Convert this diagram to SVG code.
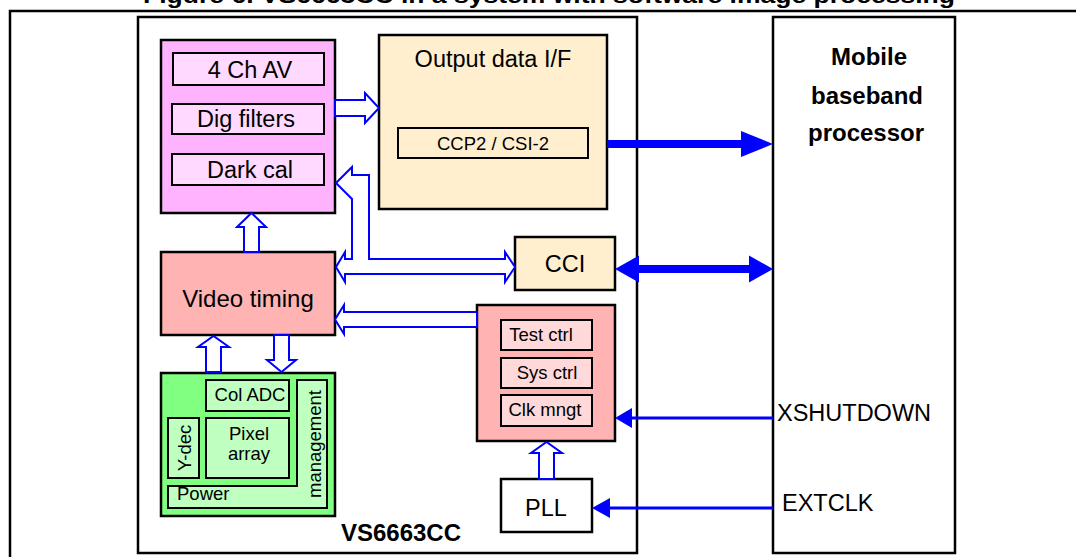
<svg xmlns="http://www.w3.org/2000/svg" width="1076" height="557" viewBox="0 0 1076 557">
<style>
text{font-family:"Liberation Sans",Arial,sans-serif;fill:#000}
.bx{stroke:#000;stroke-width:2.5}
.thin{stroke:#000;stroke-width:2}
.ha{fill:#fff;stroke:#0000ff;stroke-width:2;stroke-linejoin:miter}
.sa{fill:#0000ff;stroke:none}
.t20{font-size:23.5px}
.t16{font-size:18.5px}
.c{text-anchor:middle}
.b{font-size:24px;font-weight:bold;text-anchor:middle}
</style>
<rect width="1076" height="557" fill="#fff"/>
<text x="143" y="3" font-size="22" font-weight="bold" textLength="812" lengthAdjust="spacingAndGlyphs">Figure 6. VS6663CC in a system with software image processing</text>
<path d="M10,557 V11 H1076" fill="none" stroke="#000" stroke-width="2.5"/>

<g id="chip">
<rect x="138" y="17" width="499" height="536" fill="#fff" class="bx"/>
<text x="401" y="541" class="b">VS6663CC</text>
</g>

<g id="baseband">
<rect x="773" y="17" width="182" height="536" fill="#fff" class="bx"/>
<text x="869" y="65" class="b">Mobile</text>
<text x="867" y="104" class="b">baseband</text>
<text x="866" y="141" class="b">processor</text>
</g>

<g id="digital">
<rect x="161" y="40" width="174" height="173" fill="#ffb3ff" class="bx"/>
<rect x="173" y="53" width="151" height="32" fill="#ffd9ff" class="thin"/>
<text x="250" y="78" class="t20 c">4 Ch AV</text>
<rect x="172" y="104" width="152" height="30" fill="#ffd9ff" class="thin"/>
<text x="246" y="127" class="t20 c">Dig filters</text>
<rect x="172" y="154" width="152" height="31" fill="#ffd9ff" class="thin"/>
<text x="250" y="178" class="t20 c">Dark cal</text>
</g>

<g id="output-if">
<rect x="379" y="35" width="228" height="174" fill="#ffefcf" class="bx"/>
<text x="493" y="67" class="t20 c">Output data I/F</text>
<rect x="398" y="128" width="190" height="30" fill="#ffefcf" class="thin"/>
<text x="493" y="150" class="t16 c">CCP2 / CSI-2</text>
</g>

<g id="cci">
<rect x="515" y="237" width="100" height="53" fill="#ffefcf" class="bx"/>
<text x="565" y="272" class="t20 c">CCI</text>
</g>

<g id="video-timing">
<rect x="161" y="252" width="174" height="83" fill="#ffb3b3" class="bx"/>
<text x="248" y="307" font-size="24" class="c">Video timing</text>
</g>

<g id="control">
<rect x="477" y="305" width="138" height="136" fill="#ffb3b3" class="bx"/>
<rect x="501" y="320" width="91" height="30" fill="#ffd9d9" class="thin"/>
<text x="541" y="341" class="t16 c">Test ctrl</text>
<rect x="501" y="358" width="91" height="30" fill="#ffd9d9" class="thin"/>
<text x="547" y="379" class="t16 c">Sys ctrl</text>
<rect x="501" y="395" width="91" height="31" fill="#ffd9d9" class="thin"/>
<text x="545" y="416" class="t16 c">Clk mngt</text>
</g>

<g id="pll">
<rect x="501" y="479" width="91" height="53" fill="#fff" class="bx"/>
<text x="546" y="516" class="t20 c">PLL</text>
</g>

<g id="sensor">
<rect x="161" y="373" width="174" height="143" fill="#80ff80" class="bx"/>
<rect x="206" y="380" width="83" height="31" fill="#bfffbf" class="thin"/>
<text x="250" y="401" class="t16 c">Col ADC</text>
<rect x="168" y="418" width="31" height="60" fill="#bfffbf" class="thin"/>
<text transform="translate(191,448) rotate(-90)" class="t16 c">Y-dec</text>
<rect x="206" y="418" width="83" height="60" fill="#bfffbf" class="thin"/>
<text x="249" y="440" font-size="18.5" class="c">Pixel</text>
<text x="249" y="460" font-size="18.5" class="c">array</text>
<polygon points="297,380 327,380 327,508 168,508 168,486 297,486" fill="#bfffbf" class="thin"/>
<text x="177" y="500" class="t16">Power</text>
<text transform="translate(321,444) rotate(-90)" class="t16 c">management</text>
</g>

<g id="connectors">
<polygon class="ha" points="335,100 365,100 365,93 379,108 365,123 365,116 335,116"/>
<polygon class="ha" points="244,252 244,227 237,227 251.5,213 266,227 259,227 259,252"/>
<polygon class="ha" points="336,183 352,167 352,175 369,175 369,259 505,259 505,252 515,267 505,282 505,274 345,274 345,282 336,267 345,252 345,259 352,259 352,199"/>
<polygon class="ha" points="477,312 344,312 344,305 335,319.5 344,334 344,327 477,327"/>
<polygon class="ha" points="206,372 206,347 198,347 213.5,336 229,347 221,347 221,372"/>
<polygon class="ha" points="274,335 274,360 267,360 281.5,372 296,360 289,360 289,335"/>
<polygon class="ha" points="539,479 539,453 531,453 546.5,442 562,453 554,453 554,479"/>
<rect class="sa" x="607" y="140" width="136" height="8"/>
<polygon class="sa" points="741,131 773,144 741,157"/>
<rect class="sa" x="637" y="265" width="114" height="8"/>
<polygon class="sa" points="615,269 639,255.5 639,282.5"/>
<polygon class="sa" points="773,269 749,255.5 749,282.5"/>
<line x1="630" y1="418" x2="773" y2="418" stroke="#0000ff" stroke-width="3"/>
<polygon class="sa" points="615,418 632,408 632,428"/>
<line x1="608" y1="508" x2="773" y2="508" stroke="#0000ff" stroke-width="3"/>
<polygon class="sa" points="592,508 610,498 610,518"/>
</g>

<text x="777" y="421" class="t20">XSHUTDOWN</text>
<text x="782" y="511" class="t20">EXTCLK</text>
</svg>
